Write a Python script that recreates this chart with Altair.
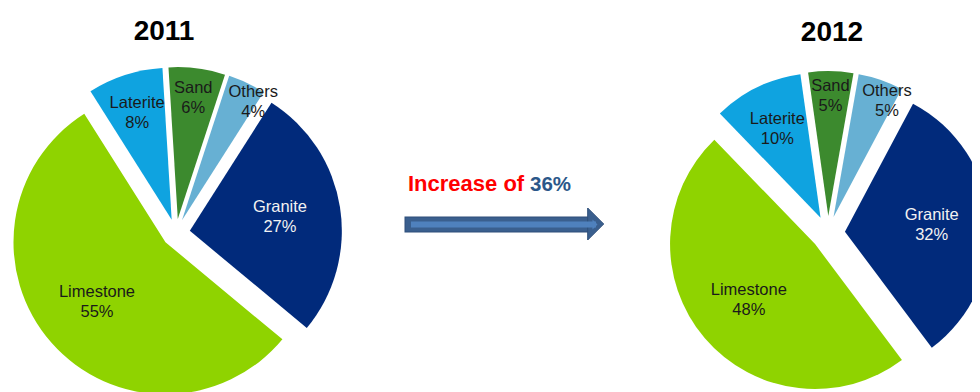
import math
import altair as alt
import pandas as pd

# ---------------- data ----------------
categories = ["Sand", "Others", "Granite", "Limestone", "Laterite"]
values_2011 = [6, 4, 27, 55, 8]
values_2012 = [5, 5, 32, 48, 10]
years = ["2011", "2012"]
increase_pct = 36

colors = ["#3C8A2E", "#67B0D3", "#012A7B", "#8FD300", "#0FA3E0"]

# ---------------- layout (chart coordinates) ----------------
W, H = 964, 384
LABEL_FONT = "Liberation Sans"


def pie(values, cx, cy, r, explode, start_deg):
    df = pd.DataFrame({"category": categories, "value": values,
                       "order": list(range(len(categories)))})
    total = sum(values)
    s = math.radians(start_deg)
    base = (
        alt.Chart(df)
        .transform_window(cum="sum(value)", sort=[alt.SortField("order")], frame=[None, 0])
        .transform_window(prev="lag(value)", sort=[alt.SortField("order")])
        .transform_calculate(
            t0="datum.cum - datum.value",
            mid=f"{s} + 2*PI*(datum.cum - datum.value/2)/{total}",
            crowded="datum.value < 7 && datum.prev != null && datum.prev < 7 ? 1 : 0",
        )
        .transform_calculate(
            px=f"{cx} + {explode}*sin(datum.mid)",
            py=f"{cy} - {explode}*cos(datum.mid)",
            la="datum.mid + 0.1*datum.crowded",
            lr=f"datum.value >= 20 ? {0.6 * r} : {r}*(0.98 - 0.03*datum.value + 0.05*datum.crowded)",
            label="datum.category + '\\n' + datum.value + '%'",
        )
        .transform_calculate(
            lx="datum.px + datum.lr*sin(datum.la)",
            ly="datum.py - datum.lr*cos(datum.la)",
        )
    )
    arcs = base.mark_arc(outerRadius=r).encode(
        theta=alt.Theta("t0:Q", scale=alt.Scale(domain=[0, total], range=[s, s + 2 * math.pi])),
        theta2="cum:Q",
        x=alt.X("px:Q", scale=None, axis=None),
        y=alt.Y("py:Q", scale=None, axis=None),
        color=alt.Color("category:N", scale=alt.Scale(domain=categories, range=colors), legend=None),
    )
    labels = base.mark_text(
        lineBreak="\n", fontSize=16.5, font=LABEL_FONT, lineHeight=20,
        baseline="middle", align="center", dy=-10,
    ).encode(
        x=alt.X("lx:Q", scale=None, axis=None),
        y=alt.Y("ly:Q", scale=None, axis=None),
        text="label:N",
        color=alt.when(alt.datum.category == "Granite")
        .then(alt.value("#F2F2F2"))
        .otherwise(alt.value("#1A1A1A")),
    )
    return alt.layer(arcs, labels)


pie2011 = pie(values_2011, 168, 225, 152, 14, -3.5)
pie2012 = pie(values_2012, 820, 225, 145, 17, -8)

one = pd.DataFrame({"k": [0]})

title1 = alt.Chart(one).mark_text(
    font=LABEL_FONT, fontSize=28, fontWeight="bold", color="#000000",
    align="center", baseline="middle",
).encode(x=alt.value(156), y=alt.value(24), text=alt.value(years[0]))
title2 = alt.Chart(one).mark_text(
    font=LABEL_FONT, fontSize=28, fontWeight="bold", color="#000000",
    align="center", baseline="middle",
).encode(x=alt.value(824), y=alt.value(25), text=alt.value(years[1]))

inc_text = alt.Chart(one).mark_text(
    font=LABEL_FONT, fontSize=22, fontWeight="bold", color="#FF0000",
    align="left", baseline="alphabetic",
).encode(x=alt.value(400), y=alt.value(183), text=alt.value("Increase of"))
inc_val = alt.Chart(one).mark_text(
    font=LABEL_FONT, fontSize=20.5, fontWeight="bold", color="#2B5789",
    align="left", baseline="alphabetic",
).encode(x=alt.value(522), y=alt.value(183), text=alt.value(f"{increase_pct}%"))

shaft_border = alt.Chart(one).mark_rule(strokeWidth=16, color="#2F4F7A", strokeCap="butt").encode(
    x=alt.value(396.5), x2=alt.value(582), y=alt.value(216.5)
)
shaft = alt.Chart(one).mark_rule(strokeWidth=14, color="#3A5F8E", strokeCap="butt").encode(
    x=alt.value(397.5), x2=alt.value(582), y=alt.value(216.5)
)
stripe = alt.Chart(one).mark_rule(strokeWidth=6, color="#4F81BD", strokeCap="butt").encode(
    x=alt.value(403), x2=alt.value(588), y=alt.value(216.5)
)
head = alt.Chart(one).mark_point(
    shape="M-0.5,-1L0.5,0L-0.5,1Z", size=1024, filled=True,
    fill="#3A5F8E", stroke="#2F4F7A", strokeWidth=1, opacity=1,
).encode(x=alt.value(587.7), y=alt.value(216))
head_stripe = alt.Chart(one).mark_point(
    shape="M-0.5,-1L0.5,0L-0.5,1Z", size=100, filled=True,
    fill="#4F81BD", opacity=1,
).encode(x=alt.value(587), y=alt.value(216.5))

chart = (
    alt.layer(
        pie2011, pie2012, title1, title2, inc_text, inc_val,
        shaft_border, shaft, head, stripe, head_stripe,
    )
    .resolve_scale(theta="independent")
    .properties(width=W, height=H, autosize=alt.AutoSizeParams(type="none"), padding=0,
                background="#FFFFFF")
    .configure_view(stroke=None)
)

chart.save("out.html", embed_options={"renderer": "svg", "actions": False})
